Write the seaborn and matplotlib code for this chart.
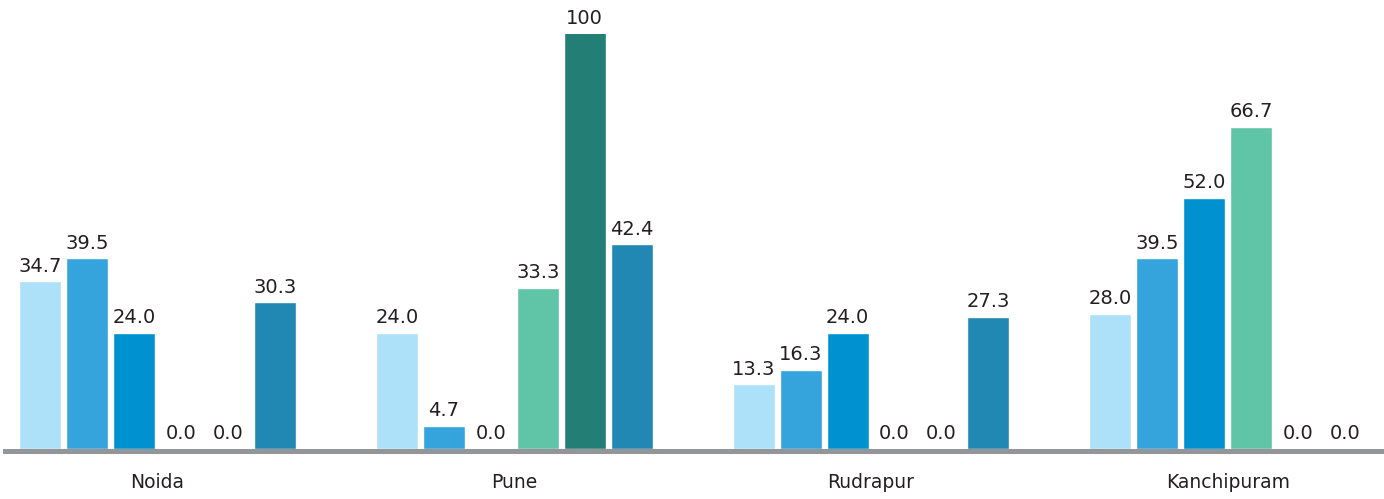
import matplotlib
matplotlib.use("Agg")
import matplotlib.pyplot as plt
import pandas as pd
import seaborn as sns

cities = ["Noida", "Pune", "Rudrapur", "Kanchipuram"]
series = ["Series 1", "Series 2", "Series 3", "Series 4", "Series 5", "Series 6"]
values = {
    "Series 1": [34.7, 24.0, 13.3, 28.0],
    "Series 2": [39.5, 4.7, 16.3, 39.5],
    "Series 3": [24.0, 0.0, 24.0, 52.0],
    "Series 4": [0.0, 33.3, 0.0, 66.7],
    "Series 5": [0.0, 100.0, 0.0, 0.0],
    "Series 6": [30.3, 42.4, 27.3, 0.0],
}
colors = ["#ADE1FA", "#35A3DC", "#0091D0", "#60C4A6", "#237F75", "#2188B3"]

rows = [(c, s, values[s][i]) for s in series for i, c in enumerate(cities)]
df = pd.DataFrame(rows, columns=["city", "series", "value"])

sns.set_theme(style="white")
plt.rcParams["font.family"] = ["DejaVu Sans"]

W, H = 1384, 499
base_px, top_px = 448.5, 34
fig = plt.figure(figsize=(W / 100, H / 100), dpi=100)
ax = fig.add_axes([5 / W, (H - base_px) / H, 1 - 5 / W, (base_px - top_px) / H])

sns.barplot(
    data=df, x="city", y="value", hue="series",
    order=cities, hue_order=series, palette=colors,
    width=0.79, gap=0.106, saturation=1, legend=False, ax=ax,
)

# value axis is capped; taller bars are cut at the top edge
ymax = 86.0
ax.set_xlim(-0.4275, 3.438)
ax.set_ylim(0, ymax)

def fmt(v):
    return f"{v:.0f}" if v >= 100 else f"{v:.1f}"

for s, cont in zip(series, ax.containers):
    for v, bar in zip(values[s], cont):
        x = bar.get_x() + bar.get_width() / 2
        ax.annotate(fmt(v), xy=(x, min(v, ymax)), xytext=(0, 4),
                    textcoords="offset points", ha="center", va="bottom",
                    fontsize=14, color="#231F20", annotation_clip=False)

for side in ["top", "left", "right"]:
    ax.spines[side].set_visible(False)
ax.spines["bottom"].set_color("#939598")
ax.spines["bottom"].set_linewidth(3.6)
ax.spines["bottom"].set_position(("outward", 1.8))

ax.set_yticks([])
ax.set_xlabel("")
ax.set_ylabel("")
ax.tick_params(axis="x", length=0, pad=16, labelsize=13.5, labelcolor="#231F20")

fig.savefig("out.png", dpi=100)
